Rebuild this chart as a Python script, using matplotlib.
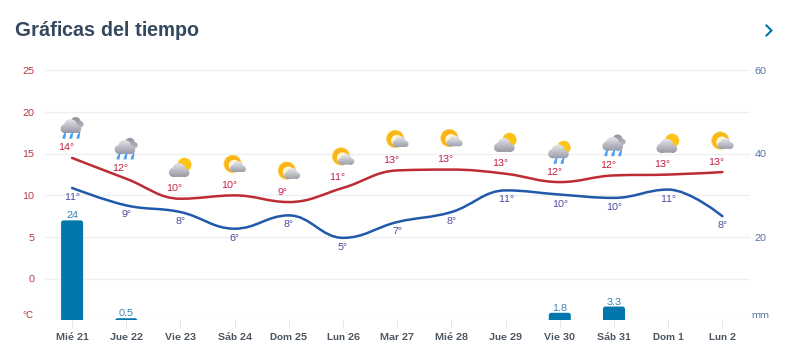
import numpy as np
import matplotlib
matplotlib.use('Agg')
import matplotlib.pyplot as plt
from matplotlib.path import Path
from matplotlib.patches import PathPatch, Circle, Polygon

days = ['Mié 21', 'Jue 22', 'Vie 23', 'Sáb 24', 'Dom 25', 'Lun 26', 'Mar 27',
        'Mié 28', 'Jue 29', 'Vie 30', 'Sáb 31', 'Dom 1', 'Lun 2']
temp_max = [14.5, 12.0, 9.6, 10.0, 9.2, 10.9, 13.0, 13.1, 12.6, 11.6, 12.4, 12.5, 12.8]
temp_min = [10.9, 8.8, 8.0, 6.0, 7.6, 4.9, 6.8, 8.0, 10.6, 10.1, 9.7, 10.7, 7.5]
max_labels = [14, 12, 10, 10, 9, 11, 13, 13, 13, 12, 12, 13, 13]
min_labels = [11, 9, 8, 6, 8, 5, 7, 8, 11, 10, 10, 11, 8]
rain_mm = [24, 0.5, 0, 0, 0, 0, 0, 0, 0, 1.8, 3.3, 0, 0]
rain_labels = ['24', '0.5', '', '', '', '', '', '', '', '1.8', '3.3', '', '']
icons = ['rain', 'rain', 'cloudsun', 'suncloud', 'suncloud', 'suncloud', 'suncloud',
         'suncloud', 'cloudsun', 'cloudrain', 'rain', 'cloudsun', 'suncloud']
temp_ticks = [-5, 0, 5, 10, 15, 20, 25]
temp_ticklabels = ['', '0', '5', '10', '15', '20', '25']
mm_ticks = [0, 20, 40, 60]
mm_ticklabels = ['', '20', '40', '60']

RED = '#bd2b33'
BLUE = '#2159aa'
BAR = '#0076ab'
GRID = '#eeeff1'
W, H = 790, 361
FS = 7.4


def spline(xs, ys):
    # same idea as a highcharts spline: tangents from the neighbours
    n = len(xs)
    left, right = [None] * n, [None] * n
    for i in range(1, n - 1):
        lx = (1.5 * xs[i] + xs[i - 1]) / 2.5
        ly = (1.5 * ys[i] + ys[i - 1]) / 2.5
        rx = (1.5 * xs[i] + xs[i + 1]) / 2.5
        ry = (1.5 * ys[i] + ys[i + 1]) / 2.5
        c = (ry - ly) * (rx - xs[i]) / (rx - lx) + ys[i] - ry
        ly += c
        ry += c
        if ly > ys[i - 1] and ly > ys[i]:
            ly = max(ys[i - 1], ys[i])
            ry = 2 * ys[i] - ly
        elif ly < ys[i - 1] and ly < ys[i]:
            ly = min(ys[i - 1], ys[i])
            ry = 2 * ys[i] - ly
        if ry > ys[i + 1] and ry > ys[i]:
            ry = max(ys[i + 1], ys[i])
            ly = 2 * ys[i] - ry
        elif ry < ys[i + 1] and ry < ys[i]:
            ry = min(ys[i + 1], ys[i])
            ly = 2 * ys[i] - ry
        left[i] = (lx, ly)
        right[i] = (rx, ry)
    verts = [(xs[0], ys[0])]
    codes = [Path.MOVETO]
    for i in range(1, n):
        verts.append(right[i - 1] or (xs[i - 1], ys[i - 1]))
        verts.append(left[i] or (xs[i], ys[i]))
        verts.append((xs[i], ys[i]))
        codes += [Path.CURVE4] * 3
    return Path(verts, codes)


def rounded_bar(x, h, w, rx, ry):
    ry = min(ry, h)
    verts = [(x - w / 2, 0), (x - w / 2, h - ry), (x - w / 2, h), (x - w / 2 + rx, h),
             (x + w / 2 - rx, h), (x + w / 2, h), (x + w / 2, h - ry), (x + w / 2, 0),
             (x - w / 2, 0)]
    codes = [Path.MOVETO, Path.LINETO, Path.CURVE3, Path.CURVE3, Path.LINETO,
             Path.CURVE3, Path.CURVE3, Path.LINETO, Path.CLOSEPOLY]
    return Path(verts, codes)


def cloud(over, cx, cy, s, top, bottom, zorder):
    # cloud is a few circles plus a flat base, filled with a vertical gradient
    parts = [Path.circle((cx - 6.0 * s, cy + 2.2 * s), 4.6 * s),
             Path.circle((cx - 0.5 * s, cy - 0.6 * s), 6.6 * s),
             Path.circle((cx + 6.0 * s, cy + 2.6 * s), 4.0 * s),
             Path.unit_rectangle().transformed(
                 matplotlib.transforms.Affine2D().scale(12.5 * s, 5 * s).translate(cx - 6.2 * s, cy + 1.6 * s))]
    clip = PathPatch(Path.make_compound_path(*parts), transform=over.transData, fc='none', ec='none')
    over.add_patch(clip)
    grad = np.linspace(0, 1, 32).reshape(-1, 1, 1)
    img = np.array(top) * (1 - grad) + np.array(bottom) * grad
    im = over.imshow(img, extent=(cx - 12 * s, cx + 12 * s, cy + 7 * s, cy - 9 * s),
                     aspect='auto', zorder=zorder, interpolation='bilinear')
    im.set_clip_path(clip)


def drops(over, cx, cy, n):
    for i in range(n):
        x = cx + (i - (n - 1) / 2) * 7.0
        over.add_patch(Polygon([(x + 1.2, cy - 3.4), (x + 2.2, cy - 3.4), (x + 1.2, cy + 3.2), (x - 1.8, cy + 3.2), (x - 1.0, cy)],
                               closed=True, fc='#4b9ff2', ec='none', zorder=8))


def draw_icon(over, kind, cx, cy):
    light = (0.93, 0.93, 0.95)
    dark = (0.60, 0.60, 0.65)
    if kind == 'rain':
        cloud(over, cx + 4, cy - 5, 0.75, (0.55, 0.55, 0.60), (0.72, 0.72, 0.76), 6)
        cloud(over, cx - 1, cy - 1, 1.0, light, dark, 7)
        drops(over, cx - 1, cy + 8, 3)
    elif kind == 'cloudrain':
        over.add_patch(Circle((cx + 4, cy - 4), 6.8, fc='#fcc419', ec='none', zorder=6))
        cloud(over, cx - 1, cy + 0, 1.0, light, dark, 7)
        drops(over, cx - 1, cy + 9, 2)
    elif kind == 'cloudsun':
        over.add_patch(Circle((cx + 4, cy - 3.5), 7.0, fc='#fcc419', ec='none', zorder=6))
        cloud(over, cx - 1, cy + 2, 1.0, light, dark, 7)
    else:
        over.add_patch(Circle((cx - 2.0, cy - 1), 8.6, fc='#f9b416', ec='#fbd047', lw=0.6, zorder=6))
        over.add_patch(Circle((cx - 0.5, cy + 0.5), 5.6, fc='#fff6d6', ec='none', zorder=6))
        cloud(over, cx + 3.5, cy + 2.0, 0.78, (0.97, 0.97, 0.98), (0.62, 0.62, 0.67), 7)


plt.rcParams['font.family'] = ['Liberation Sans', 'DejaVu Sans']
plt.rcParams['text.hinting'] = 'no_autohint'
plt.rcParams['text.hinting_factor'] = 1
fig = plt.figure(figsize=(W / 100, H / 100), dpi=100)
rect = [45 / W, 1 - 320.3 / H, 705 / W, 249.8 / H]

ax2 = fig.add_axes(rect)
ax = fig.add_axes(rect, sharex=ax2)
ax.patch.set_visible(False)
ax2.yaxis.tick_right()

X = np.arange(len(days))
ax.set_xlim(-0.5, 12.51)
ax.set_ylim(-5, 25)
ax2.set_ylim(0, 60)

ax.set_yticks(temp_ticks)
ax.set_yticklabels(temp_ticklabels, fontsize=FS, color='#b8323a')
ax.tick_params(axis='y', length=0, pad=7.8)
ax2.set_yticks(mm_ticks)
ax2.set_yticklabels(mm_ticklabels, fontsize=FS, color='#4f6da3')
ax2.tick_params(axis='y', length=0, pad=3.4)
ax2.grid(False)
ax.grid(False)
for t in temp_ticks:
    ax2.plot([-0.5, 12.51], [(t + 5) * 2, (t + 5) * 2], color=GRID, lw=0.9, zorder=1, solid_capstyle='butt')

ax.set_xticks(X)
ax.set_xticklabels(days, fontsize=7.3, fontweight='bold', color='#4a545e', va='baseline')
ax.tick_params(axis='x', length=5.8, width=0.7, color='#e6e7ea', pad=8.4)
ax2.tick_params(axis='x', length=0, labelbottom=False)
for a in (ax, ax2):
    for s in a.spines.values():
        s.set_visible(False)

# rain bars, 22 px wide with rounded top corners
px_x = 705 / 13.01
px_mm = 249.8 / 60
for i, v in enumerate(rain_mm):
    if v > 0:
        ax2.add_patch(PathPatch(rounded_bar(X[i], v, 22 / px_x, 2.5 / px_x, 2.5 / px_mm),
                                fc=BAR, ec='none', zorder=3))
        ax2.annotate(rain_labels[i], (X[i], v), xytext=(0, 4.5), textcoords='offset pixels',
                     ha='center', va='center', fontsize=FS, color='#2f7db3')

ax.add_patch(PathPatch(spline(X, temp_max), fc='none', ec=RED, lw=1.8, capstyle='round', zorder=4))
ax.add_patch(PathPatch(spline(X, temp_min), fc='none', ec=BLUE, lw=1.8, capstyle='round', zorder=4))

for i in X:
    ax.annotate('%d°' % max_labels[i], (i, temp_max[i]), xytext=(-6, 10), textcoords='offset pixels',
                ha='center', va='center', fontsize=FS, color='#c0173a')
    ax.annotate('%d°' % min_labels[i], (i, temp_min[i]), xytext=(0, -9.5), textcoords='offset pixels',
                ha='center', va='center', fontsize=FS, color='#44439a')

# pixel space overlay for the title, the arrow and the weather icons
over = fig.add_axes([0, 0, 1, 1], zorder=5)
over.patch.set_visible(False)
over.axis('off')
for i in X:
    px, py = ax.transData.transform((i, temp_max[i]))
    draw_icon(over, icons[i], px, H - py - 30.5)
over.set_xlim(0, W)
over.set_ylim(H, 0)

over.text(15, 30.5, 'Gráficas del tiempo', fontsize=14.35, fontweight='bold', color='#34495e', va='center', ha='left')
over.plot([766.5, 771.5, 766.5], [25.5, 30.5, 35.5], color=BAR, lw=1.5, solid_joinstyle='miter')
over.text(33.5, 316, '°C', fontsize=FS, color='#b8323a', ha='right', va='center')
over.text(751.5, 316, 'mm', fontsize=FS, color='#4f6da3', ha='left', va='center')

plt.savefig('out.png', dpi=100)
